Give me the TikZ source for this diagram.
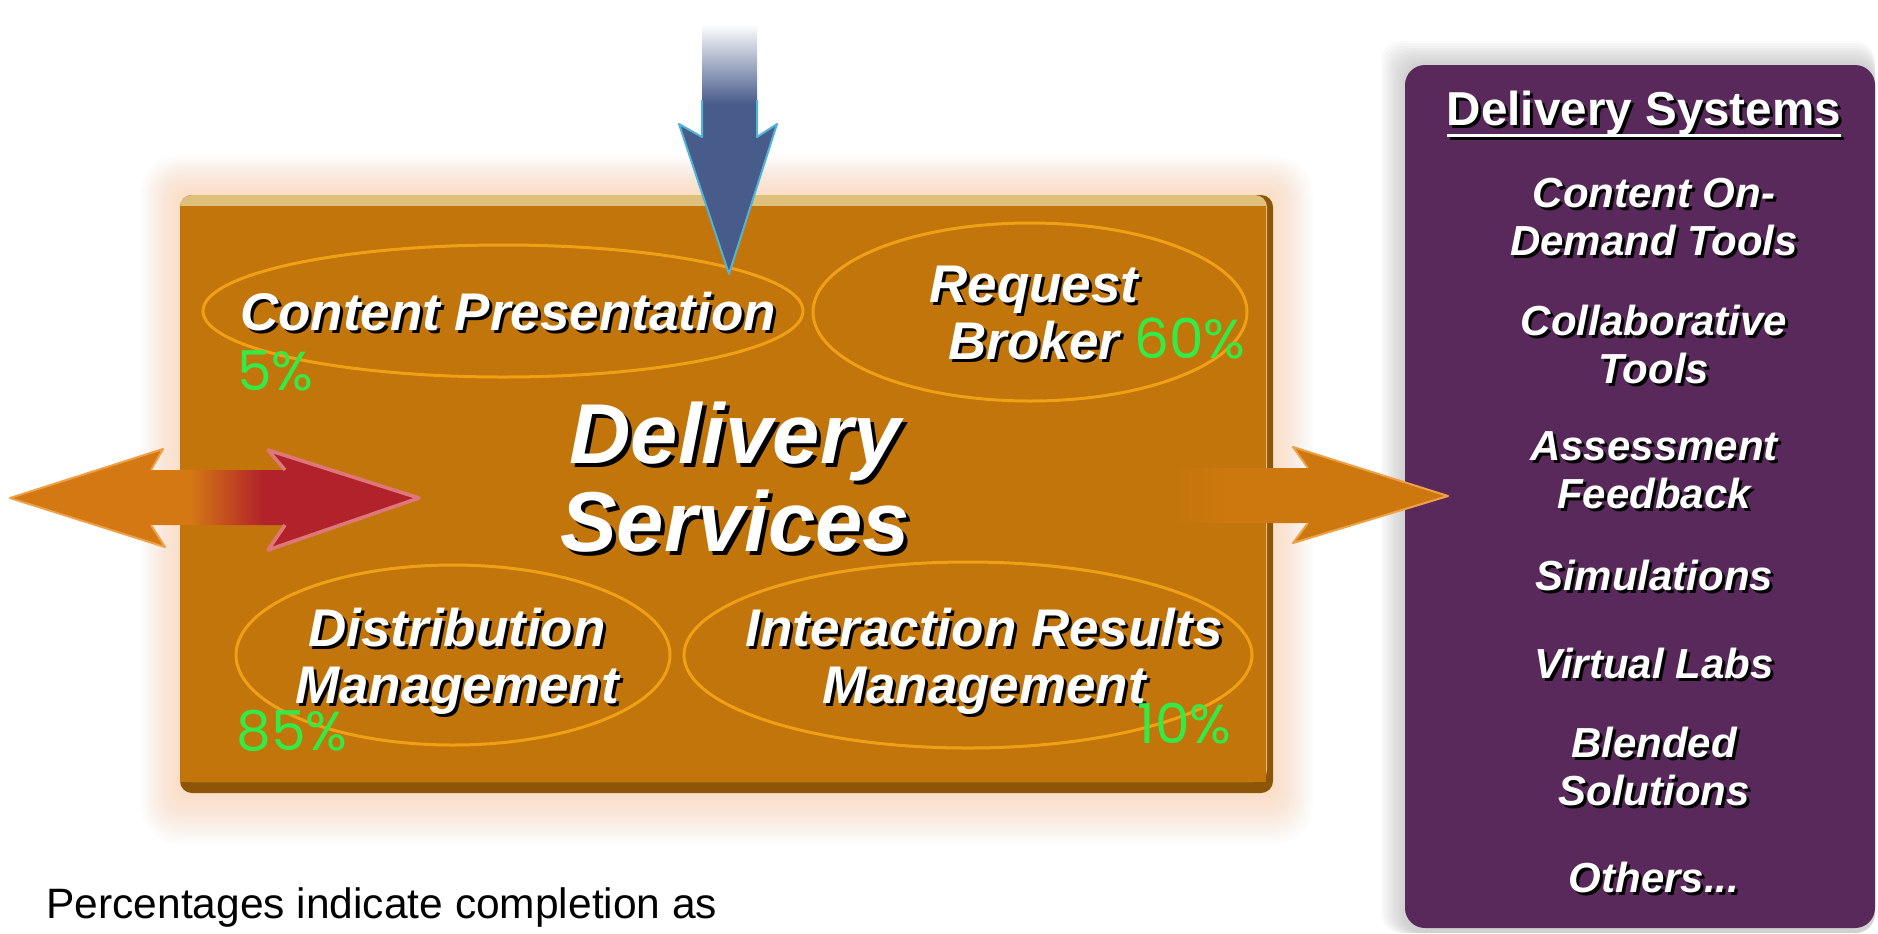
\documentclass[tikz,border=0pt]{standalone}
\usepackage{fontspec}
\setmainfont{Liberation Sans}
\newfontfamily\pctfont{Poppins}
\usetikzlibrary{calc,fadings}
\definecolor{boxor}{RGB}{194,117,10}
\definecolor{boxdark}{RGB}{140,85,8}
\definecolor{boxtan}{RGB}{222,192,122}
\definecolor{glowc}{RGB}{250,190,130}
\definecolor{ovalc}{RGB}{240,160,20}
\definecolor{pctgreen}{RGB}{50,235,70}
\definecolor{purp}{RGB}{89,41,91}
\definecolor{arrowor}{RGB}{212,120,20}
\definecolor{arrowor2}{RGB}{205,120,15}
\definecolor{lightor}{RGB}{238,160,70}
\definecolor{arrowred}{RGB}{178,34,42}
\definecolor{pinkc}{RGB}{222,120,120}
\definecolor{arrowblue}{RGB}{72,92,140}
\definecolor{cyanc}{RGB}{80,180,215}
\pgfdeclarehorizontalshading{dblshade}{100bp}{color(0bp)=(arrowor); color(47bp)=(arrowor); color(56bp)=(arrowred); color(100bp)=(arrowred)}
\pgfdeclareverticalshading{blueshade}{100bp}{color(0bp)=(arrowblue); color(57bp)=(arrowblue); color(72bp)=(white); color(100bp)=(white)}
\tikzfading[name=fadein, left color=transparent!100, right color=transparent!0]
\newcommand\shd[2][1.5pt]{\leavevmode\rlap{\kern#1\raisebox{-#1}{\color{black}#2}}#2}
\newcommand\ml[1]{\begin{tabular}[t]{@{}c@{}}#1\end{tabular}}
\newcommand\ulx[1]{\setbox0\hbox{#1}\rlap{\rule[-5.75pt]{\wd0}{1.5pt}}\box0}
\begin{document}
\begin{tikzpicture}[x=0.5pt,y=-0.5pt,
  lbl/.style={text=white, font=\bfseries\itshape\fontsize{26.5}{28.5}\selectfont, inner sep=0pt, anchor=base},
  big/.style={text=white, font=\bfseries\itshape\fontsize{42.5}{44}\selectfont, inner sep=0pt, anchor=base},
  pct/.style={text=pctgreen, font=\pctfont\fontsize{27.5}{30}\selectfont, inner sep=0pt, anchor=base west},
  itm/.style={text=white, font=\bfseries\itshape\fontsize{21}{24}\selectfont, inner sep=0pt, anchor=base},
  oval/.style={draw=ovalc, line width=1.5pt}]
\useasboundingbox (0,0) rectangle (1878,933);
\fill[white] (0,0) rectangle (1878,933);
% glow of the orange box
\foreach \i in {1,...,20}
  \fill[glowc, fill opacity=0.022, rounded corners={4pt+0.8pt*\i}] ({180-2*\i},{195-2*\i}) rectangle ({1273+2*\i},{793+2.6*\i});
% shadow of the purple box
\foreach \i in {1,...,10}
  \fill[gray, fill opacity=0.04, rounded corners=10pt] ({1405-2.4*\i},{65-2.4*\i}) rectangle (1875,933);
% purple box
\fill[purp, rounded corners=10pt] (1405,65) rectangle (1875,928);
% orange box
\fill[boxdark, rounded corners=6pt] (180,195) rectangle (1273,793);
\fill[boxtan, rounded corners=6pt] (180,195) rectangle (1267,782);
\fill[boxor] (180,206) rectangle (1266,782);
% ovals
\draw[oval] (503,311) ellipse [x radius=300, y radius=66];
\draw[oval] (1030,312) ellipse [x radius=217, y radius=89];
\draw[oval] (453,655) ellipse [x radius=217, y radius=90];
\draw[oval] (968,655) ellipse [x radius=284, y radius=93];
% left double arrow
\path[shading=dblshade] (10,498) -- (163,449) -- (151,470) -- (285,470) -- (268,450) -- (419,498) -- (268,550) -- (285,525) -- (151,525) -- (165,547) -- cycle;
\draw[lightor, line width=1pt, line join=round] (151,470) -- (163,449) -- (10,498) -- (165,547) -- (151,525);
\draw[pinkc, line width=1.8pt, line join=round] (285,470) -- (268,450) -- (419,498) -- (268,550) -- (285,525);
% right arrow
\fill[arrowor2, path fading=fadein] (1168,468) rectangle (1226,523);
\fill[arrowor2] (1225,468) -- (1308,468) -- (1293,447) -- (1448,496) -- (1293,543) -- (1308,523) -- (1225,523) -- cycle;
\draw[lightor, line width=1pt, line join=round] (1308,468) -- (1293,447) -- (1448,496) -- (1293,543) -- (1308,523);
% blue arrow
\path[shading=blueshade] (702,8) -- (757,8) -- (757,137) -- (777,124) -- (729,274) -- (679,124) -- (702,137) -- cycle;
\draw[cyanc, line width=1pt, line join=round] (702,100) -- (702,137) -- (679,124) -- (729,274) -- (777,124) -- (757,137) -- (757,100);
% texts in the orange box
\node[lbl] (cp) at (508,330) {\shd{Content Presentation}};
\node[pct] (p5) at (237,390) {5\%};
\node[lbl] (rb) at (1034,302) {\ml{\shd{Request}\\\shd{Broker}}};
\node[pct] (p60) at (1134,358) {60\%};
\node[big] (ds) at (735,463) {\ml{\shd[2pt]{Delivery}\\\shd[2pt]{Services}}};
\node[lbl] (dm) at (457,646) {\ml{\shd{Distribution}\\\shd{Management}}};
\node[pct] (p85) at (236,750) {85\%};
\node[lbl] (irm) at (984,646) {\ml{\shd{Interaction Results}\\\shd{Management}}};
\node[pct] (p10) at (1137,743) {10\%};
% purple box texts
\node[text=white, font=\bfseries\fontsize{23.8}{26}\selectfont, inner sep=0pt, anchor=base] (dsys) at (1644,125) {\shd{\ulx{Delivery Systems}}};
\node[itm] (i1) at (1654,207) {\ml{\shd{Content On-}\\\shd{Demand Tools}}};
\node[itm] (i2) at (1654,335) {\ml{\shd{Collaborative}\\\shd{Tools}}};
\node[itm] (i3) at (1654,460) {\ml{\shd{Assessment}\\\shd{Feedback}}};
\node[itm] (i4) at (1654,590) {\shd{Simulations}};
\node[itm] (i5) at (1654,678) {\shd{Virtual Labs}};
\node[itm] (i6) at (1654,757) {\ml{\shd{Blended}\\\shd{Solutions}}};
\node[itm] (i7) at (1654,892) {\shd{Others...}};
% note
\node[font=\fontsize{21.25}{25}\selectfont, inner sep=0pt, anchor=base west] (note) at (46,918) {Percentages indicate completion as};
\end{tikzpicture}
\end{document}
